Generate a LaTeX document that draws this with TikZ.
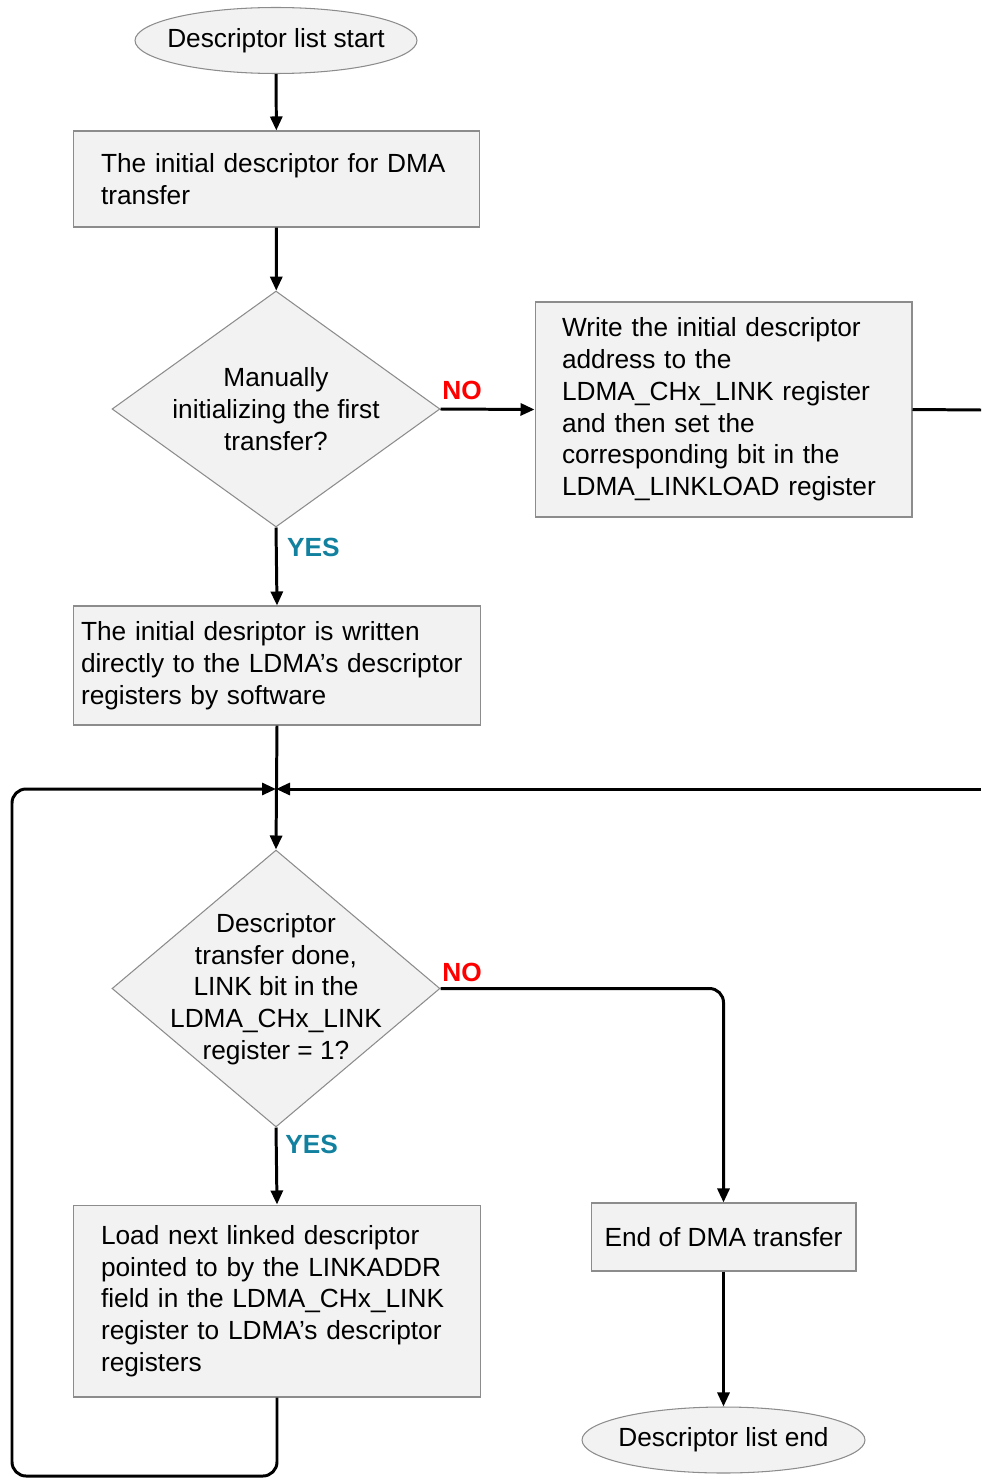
\documentclass[tikz,border=0pt]{standalone}
\usepackage{fontspec}
\setmainfont{Liberation Sans}
\usetikzlibrary{shapes.geometric,arrows.meta}
\definecolor{boxfill}{HTML}{F2F2F2}
\definecolor{boxline}{HTML}{8C8C8C}
\definecolor{yescol}{HTML}{12819F}
\definecolor{nocol}{HTML}{FF0000}
\tikzset{
  every node/.style={font=\fontsize{14.95}{18.1}\selectfont},
  box/.style={draw=boxline, fill=boxfill, line width=0.6pt, rectangle, align=left, inner ysep=0pt},
  terminal/.style={draw=boxline, fill=boxfill, line width=0.6pt, ellipse, inner sep=0pt,
    minimum width=5.64cm, minimum height=1.32cm},
  decision/.style={draw=boxline, fill=boxfill, line width=0.6pt, diamond, inner sep=0pt},
  dtext/.style={align=center, inner sep=0pt},
  flow/.style={line width=1.7pt, -{Triangle[length=0.28cm, width=0.24cm]}},
  plain/.style={line width=1.7pt},
  nolabel/.style={text=nocol, font=\fontsize{14.95}{18.1}\selectfont\bfseries},
  yeslabel/.style={text=yescol, font=\fontsize{14.95}{18.1}\selectfont\bfseries},
}
\begin{document}
\begin{tikzpicture}[x=0.02cm, y=-0.02cm]
\useasboundingbox (0,0) rectangle (981,1480);

% terminals (text in a zero-width box so the ellipse keeps its set size)
\node[terminal] (start) at (276,40.5) {\makebox[0pt]{Descriptor list start}};
\node[terminal, minimum width=5.66cm] (end) at (723.5,1440) {\makebox[0pt]{Descriptor list end}};

% process boxes
\node[box, inner xsep=0.56cm, text width=7.02cm, minimum height=1.92cm] (init) at (276.5,179)
  {The initial descriptor for DMA\\transfer};
\node[box, inner xsep=0.54cm, text width=6.46cm, minimum height=4.3cm] (write) at (723.5,409.5)
  {Write the initial descriptor\\address to the\\LDMA\_CHx\_LINK register\\and then set the\\corresponding bit in the\\LDMA\_LINKLOAD register};
\node[box, inner xsep=0.16cm, text width=7.84cm, minimum height=2.38cm] (direct) at (277,665.5)
  {The initial desriptor is written\\directly to the LDMA’s descriptor\\registers by software};
\node[box, inner xsep=0.56cm, text width=7.04cm, minimum height=3.84cm] (load) at (277,1301)
  {Load next linked descriptor\\pointed to by the LINKADDR\\field in the LDMA\_CHx\_LINK\\register to LDMA’s descriptor\\registers};
\node[box, align=center, minimum width=5.3cm, minimum height=1.36cm] (done) at (723.5,1237)
  {End of DMA transfer};

% decisions
\node[decision, minimum width=6.56cm, minimum height=4.72cm] (manual) at (276,409) {};
\node[dtext] (manualtxt) at (276,409) {Manually\\initializing the first\\transfer?};
\node[decision, minimum width=6.56cm, minimum height=5.54cm] (check) at (276,988.5) {};
\node[dtext] (checktxt) at (276,989) {Descriptor\\transfer done,\\LINK bit in the\\LDMA\_CHx\_LINK\\register = 1?};

% junction and off-page ends
\coordinate (merge) at (276,789);
\coordinate (outA) at (981,410);
\coordinate (outB) at (981,789);

% connectors
\draw[flow] (start) -- (init);
\draw[flow] (init) -- (manual);
\draw[flow] (manual.east) -- (write.west) node[nolabel, pos=0.23, above=1pt] {NO};
\draw[flow] (manual.south) -- (direct.north) node[yeslabel, pos=0.25, right=2pt] {YES};
\draw[plain] (write.east) -- (outA);
\draw[flow] (direct.south) -- (check.north);
\draw[flow] (outB) -- (merge);
\draw[flow, rounded corners=8] (load.south) -- (277,1476) -- (12,1476) -- (12,789) -- (merge);
\draw[flow] (check.south) -- (load.north) node[yeslabel, pos=0.22, right=1pt] {YES};
\draw[flow, rounded corners=8] (check.east) -| (done.north);
\node[nolabel] (nochk) at (462,972) {NO};
\draw[flow] (done) -- (end);
\end{tikzpicture}
\end{document}
